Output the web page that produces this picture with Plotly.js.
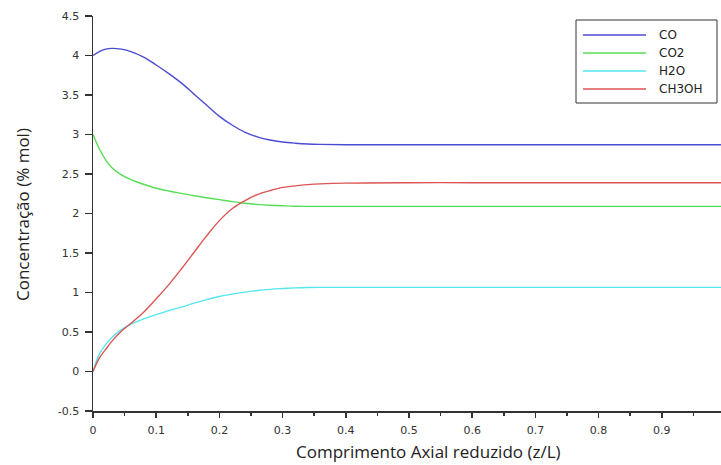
<!DOCTYPE html>
<html>
<head>
<meta charset="utf-8">
<script src="https://cdn.plot.ly/plotly-3.0.1.min.js"></script>
<style>html,body{margin:0;padding:0;background:#fff;}#chart{width:721px;height:465px;}</style>
</head>
<body>
<div id="chart"></div>
<script>
// ---- data ----
const z = [0, 0.01, 0.02, 0.03, 0.045, 0.06, 0.08, 0.1, 0.12, 0.14, 0.16, 0.18, 0.2, 0.22, 0.24, 0.26, 0.28, 0.3, 0.32, 0.34, 0.36, 0.4, 0.5, 0.6, 0.7, 0.8, 0.9, 1.0];
const CO    = [4.00, 4.05, 4.08, 4.09, 4.08, 4.05, 3.98, 3.88, 3.77, 3.65, 3.51, 3.37, 3.23, 3.12, 3.03, 2.97, 2.93, 2.905, 2.89, 2.88, 2.875, 2.87, 2.87, 2.87, 2.87, 2.87, 2.87, 2.87];
const CO2   = [3.00, 2.82, 2.68, 2.58, 2.49, 2.43, 2.37, 2.32, 2.285, 2.255, 2.225, 2.20, 2.175, 2.15, 2.13, 2.115, 2.105, 2.098, 2.092, 2.09, 2.09, 2.09, 2.09, 2.09, 2.09, 2.09, 2.09, 2.09];
const H2O   = [0.00, 0.22, 0.34, 0.43, 0.53, 0.60, 0.665, 0.72, 0.77, 0.815, 0.865, 0.91, 0.95, 0.98, 1.005, 1.025, 1.04, 1.05, 1.058, 1.063, 1.065, 1.065, 1.065, 1.065, 1.065, 1.065, 1.065, 1.065];
const CH3OH = [0.00, 0.17, 0.28, 0.385, 0.51, 0.61, 0.75, 0.92, 1.10, 1.30, 1.51, 1.72, 1.91, 2.06, 2.16, 2.24, 2.29, 2.33, 2.35, 2.365, 2.375, 2.385, 2.39, 2.39, 2.39, 2.39, 2.39, 2.39];
const seriesNames = ["CO", "CO2", "H2O", "CH3OH"];
const seriesData = [CO, CO2, H2O, CH3OH];
const seriesColors = ["#4b4bd2", "#55dd55", "#55e6ef", "#dc5454"];
const yTickVals = [-0.5, 0, 0.5, 1, 1.5, 2, 2.5, 3, 3.5, 4, 4.5];
const yTickText = ["-0.5", "0", "0.5", "1", "1.5", "2", "2.5", "3", "3.5", "4", "4.5"];
const xTitle = "Comprimento Axial reduzido (z/L)";
const yTitle = "Concentração (% mol)";

// ---- layout helpers (pixel -> paper) ----
const W = 721, H = 465, ML = 93, MR = 0, MT = 16, MB = 54;
const PW = W - ML - MR, PH = H - MT - MB;
const px = x => (x - ML) / PW;
const py = y => (H - MB - y) / PH;

const traces = seriesNames.map((n, i) => ({
  type: 'scatter', mode: 'lines', name: n, x: z, y: seriesData[i],
  line: {color: seriesColors[i], width: 1.4, shape: 'spline', smoothing: 1.0},
  showlegend: false, hoverinfo: 'skip'
}));

const shapes = [{
  type: 'rect', xref: 'paper', yref: 'paper',
  x0: px(576), x1: px(717), y0: py(103), y1: py(20),
  line: {color: '#333', width: 1}, fillcolor: 'rgba(255,255,255,1)', layer: 'above'
}];
const annotations = [];
const legY = [35, 53, 71, 89];
seriesNames.forEach((n, i) => {
  shapes.push({type: 'line', xref: 'paper', yref: 'paper',
    x0: px(583), x1: px(646), y0: py(legY[i]), y1: py(legY[i]),
    line: {color: seriesColors[i], width: 1.4}, layer: 'above'});
  annotations.push({xref: 'paper', yref: 'paper', x: px(657), y: py(legY[i]),
    xanchor: 'left', yanchor: 'middle', text: n, showarrow: false,
    font: {family: 'DejaVu Sans', size: 12, color: '#222'}});
});
annotations.push({xref: 'paper', yref: 'paper', x: px(428), y: py(451),
  xanchor: 'center', yanchor: 'middle', text: xTitle, showarrow: false,
  font: {family: 'Open Sans', size: 17, color: '#222'}});
annotations.push({xref: 'paper', yref: 'paper', x: px(22), y: py(215),
  xanchor: 'center', yanchor: 'middle', text: yTitle, showarrow: false, textangle: -90,
  font: {family: 'Open Sans', size: 17, color: '#222'}});

const layout = {
  width: W, height: H,
  margin: {l: ML, r: MR, t: MT, b: MB, pad: 0},
  paper_bgcolor: '#fff', plot_bgcolor: '#fff',
  showlegend: false,
  xaxis: {
    range: [0, PW / 632], showgrid: false, zeroline: false,
    showline: true, linecolor: '#333', linewidth: 1.5,
    ticks: 'outside', ticklen: 5, tickwidth: 1.5, tickcolor: '#333',
    tick0: 0, dtick: 0.1, ticklabelstandoff: 3,
    minor: {ticks: 'outside', ticklen: 3, tickwidth: 1.5, tickcolor: '#333', dtick: 0.05, showgrid: false},
    tickfont: {family: 'DejaVu Sans', size: 11, color: '#333'}
  },
  yaxis: {
    range: [-0.5, 4.5], showgrid: false, zeroline: false,
    showline: true, linecolor: '#333', linewidth: 1.5,
    ticks: 'outside', ticklen: 7, tickwidth: 1.5, tickcolor: '#333',
    tickmode: 'array', tickvals: yTickVals, ticktext: yTickText, ticklabelstandoff: 3,
    tickfont: {family: 'DejaVu Sans', size: 11, color: '#333'}
  },
  shapes: shapes,
  annotations: annotations
};

Plotly.newPlot('chart', traces, layout, {staticPlot: true, displayModeBar: false});
</script>
</body>
</html>
